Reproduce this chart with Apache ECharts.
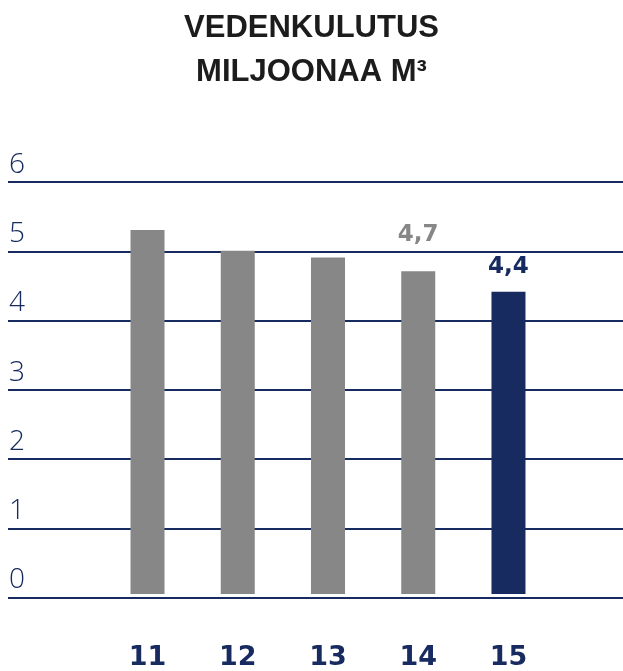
<!DOCTYPE html>
<html><head><meta charset="utf-8">
<script src="https://cdn.jsdelivr.net/npm/echarts@6/dist/echarts.min.js"></script>
<style>html,body{margin:0;padding:0;background:#fff}#c{width:623px;height:671px}</style>
</head><body><div id="c"></div>
<script>
const categories = ['11', '12', '13', '14', '15'];
const values = [5.3, 5.0, 4.9, 4.7, 4.4];
const labelled = [false, false, false, true, true];
const yTicks = [0, 6, 1];
const titleLines = ['VEDENKULUTUS', 'MILJOONAA M³'];

const NAVY = '#182b60';
const GREY = '#878787';
const HEAVY = 'DejaVu Sans';
const chart = echarts.init(document.getElementById('c'), null, {renderer: 'canvas'});
const gTop = 182, gBottom = 73.5;
chart.setOption({
  animation: false,
  title: {
    text: titleLines.join('\n'),
    left: 'center', top: 2,
    textStyle: {fontFamily: 'Liberation Sans', fontWeight: 'bold', fontSize: 31, color: '#1c1c1c', lineHeight: 43.5}
  },
  grid: [
    {left: 8, right: 0, top: gTop, bottom: gBottom},
    {left: 102.4, right: 69.4, top: gTop, bottom: gBottom}
  ],
  xAxis: [
    {gridIndex: 0, type: 'category', data: [''], show: false},
    {gridIndex: 1, type: 'category', data: categories,
     axisLine: {show: false}, axisTick: {show: false},
     axisLabel: {margin: 50, color: NAVY, fontFamily: HEAVY, fontWeight: 'bold', fontSize: 27}}
  ],
  yAxis: [
    {gridIndex: 0, type: 'value', min: yTicks[0], max: yTicks[1], interval: yTicks[2],
     axisLine: {show: false}, axisTick: {show: false},
     splitLine: {lineStyle: {color: NAVY, width: 2}},
     axisLabel: {inside: true, margin: 1, verticalAlign: 'bottom', padding: [0, 0, 3, 0],
                 color: NAVY, fontFamily: 'Open Sans', fontWeight: 300, fontSize: 28}},
    {gridIndex: 1, type: 'value', min: yTicks[0], max: yTicks[1], interval: yTicks[2], show: false}
  ],
  series: [{
    type: 'bar', xAxisIndex: 1, yAxisIndex: 1, barWidth: 34,
    data: values.map((v, i) => ({
      value: v,
      itemStyle: {color: i === values.length - 1 ? NAVY : GREY},
      label: {
        show: labelled[i], position: 'top',
        distance: i === values.length - 1 ? 13 : 25,
        color: i === values.length - 1 ? NAVY : GREY,
        fontFamily: HEAVY, fontWeight: 'bold', fontSize: 23,
        formatter: p => String(p.value.toFixed(1)).replace('.', ',')
      }
    })),
    z: 3
  }]
});
</script></body></html>
